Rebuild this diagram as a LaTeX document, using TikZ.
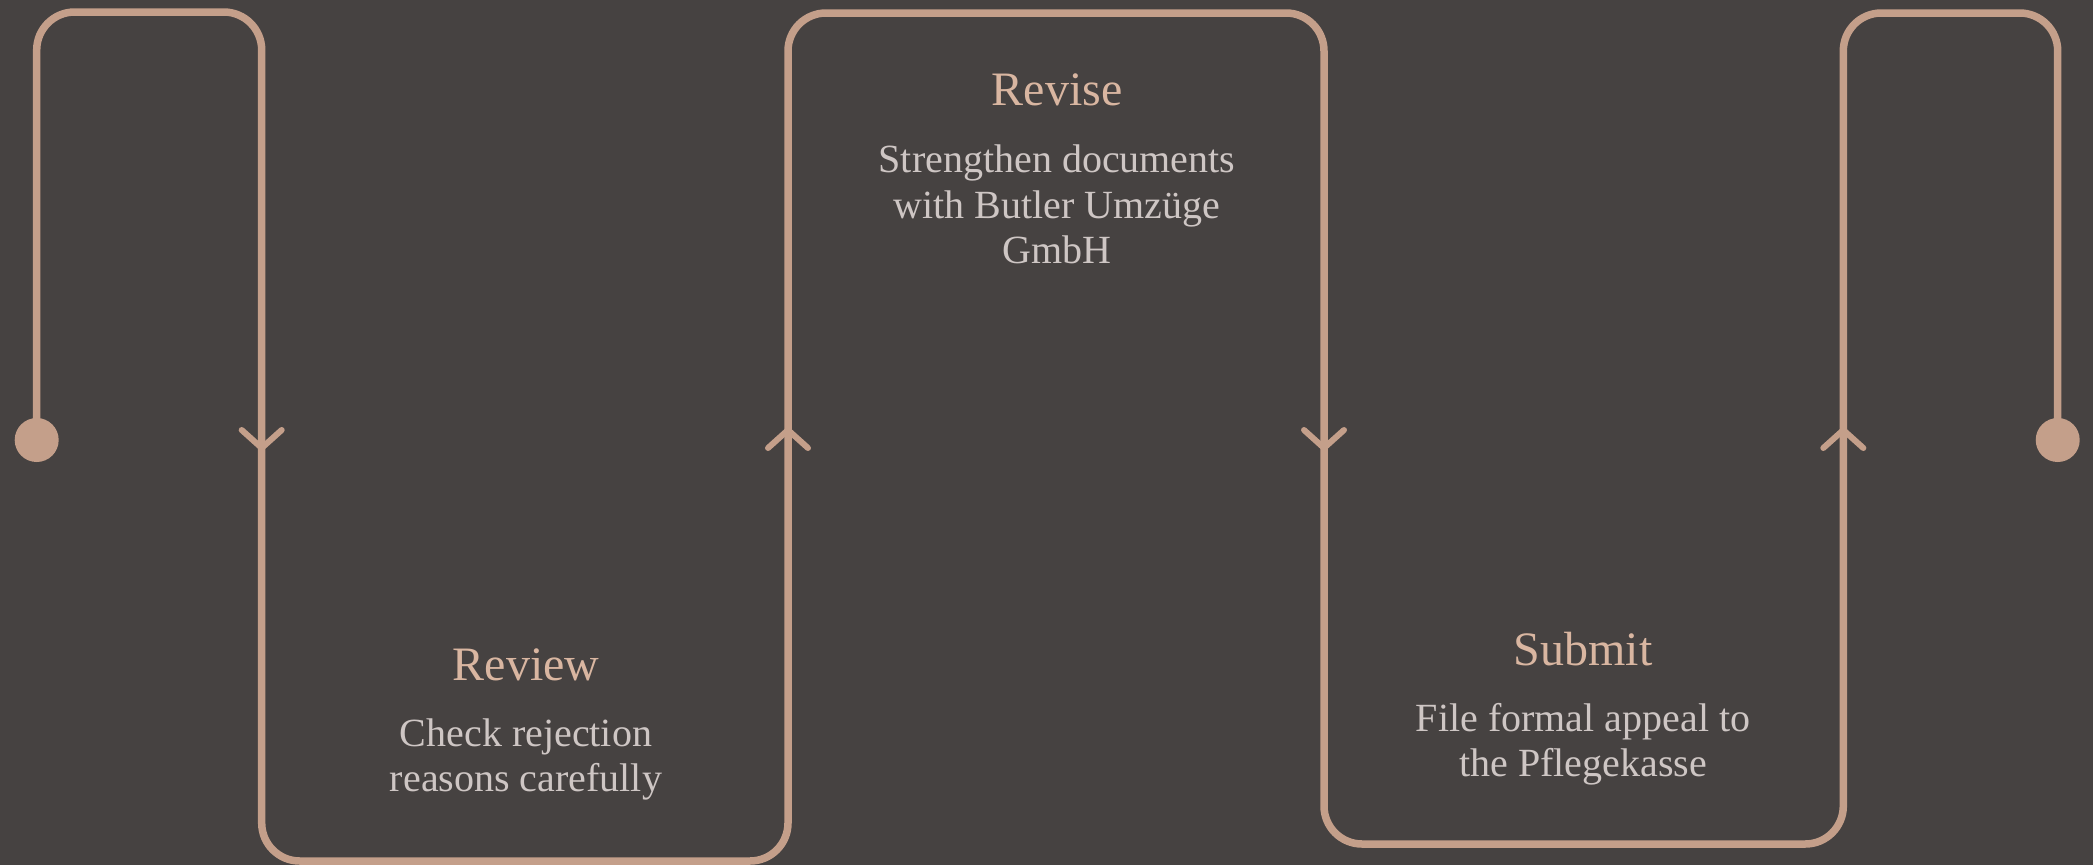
\documentclass[tikz,border=0pt]{standalone}
\usepackage{fontspec}
\setmainfont{Liberation Serif}
\definecolor{bg}{HTML}{464241}
\definecolor{ln}{HTML}{C49F8A}
\definecolor{ttl}{HTML}{D9B6A1}
\definecolor{bdy}{HTML}{CEC6C4}
\begin{document}
\begin{tikzpicture}[x=1pt,y=-1pt,
  flow/.style={draw=ln,line width=7.5pt,rounded corners=38pt},
  dotnode/.style={circle,fill=ln,minimum size=44pt,inner sep=0pt},
  chev/.style={draw=ln,line width=6pt,line cap=round,line join=miter},
  ttlnode/.style={text=ttl,font=\fontsize{48}{55}\selectfont,anchor=base,inner sep=0pt},
  bdynode/.style={text=bdy,font=\fontsize{40}{45.5}\selectfont,anchor=base,inner sep=0pt}]
\fill[bg] (0,0) rectangle (2093,865);
\useasboundingbox (0,0) rectangle (2093,865);
\node[dotnode] (start) at (36.7,440) {};
\node[dotnode] (end) at (2057.7,440) {};
\draw[flow] (start.center) -- (36.7,12) -- (261.7,12) -- (261.7,861) -- (788,861) -- (788,13) -- (1324,13) -- (1324,844) -- (1843.3,844) -- (1843.3,13) -- (2057.7,13) -- (end.center);
\coordinate (a1) at (261.7,439);
\coordinate (a2) at (788,439);
\coordinate (a3) at (1324,439);
\coordinate (a4) at (1843.3,439);
\draw[chev] ([shift={(-20,-9)}]a1) -- ([shift={(0,9)}]a1) -- ([shift={(20,-9)}]a1);
\draw[chev] ([shift={(-20,9)}]a2) -- ([shift={(0,-9)}]a2) -- ([shift={(20,9)}]a2);
\draw[chev] ([shift={(-20,-9)}]a3) -- ([shift={(0,9)}]a3) -- ([shift={(20,-9)}]a3);
\draw[chev] ([shift={(-20,9)}]a4) -- ([shift={(0,-9)}]a4) -- ([shift={(20,9)}]a4);
\node[ttlnode] (t1) at (526,680) {Review};
\node[bdynode] (b1) at (526,746) {\begin{tabular}[t]{@{}c@{}}Check rejection\\reasons carefully\end{tabular}};
\node[ttlnode] (t2) at (1057,105) {Revise};
\node[bdynode] (b2) at (1057,172.7) {\begin{tabular}[t]{@{}c@{}}Strengthen documents\\with Butler Umzüge\\GmbH\end{tabular}};
\node[ttlnode] (t3) at (1583,665) {Submit};
\node[bdynode] (b3) at (1583,731) {\begin{tabular}[t]{@{}c@{}}File formal appeal to\\the Pflegekasse\end{tabular}};
\end{tikzpicture}
\end{document}
